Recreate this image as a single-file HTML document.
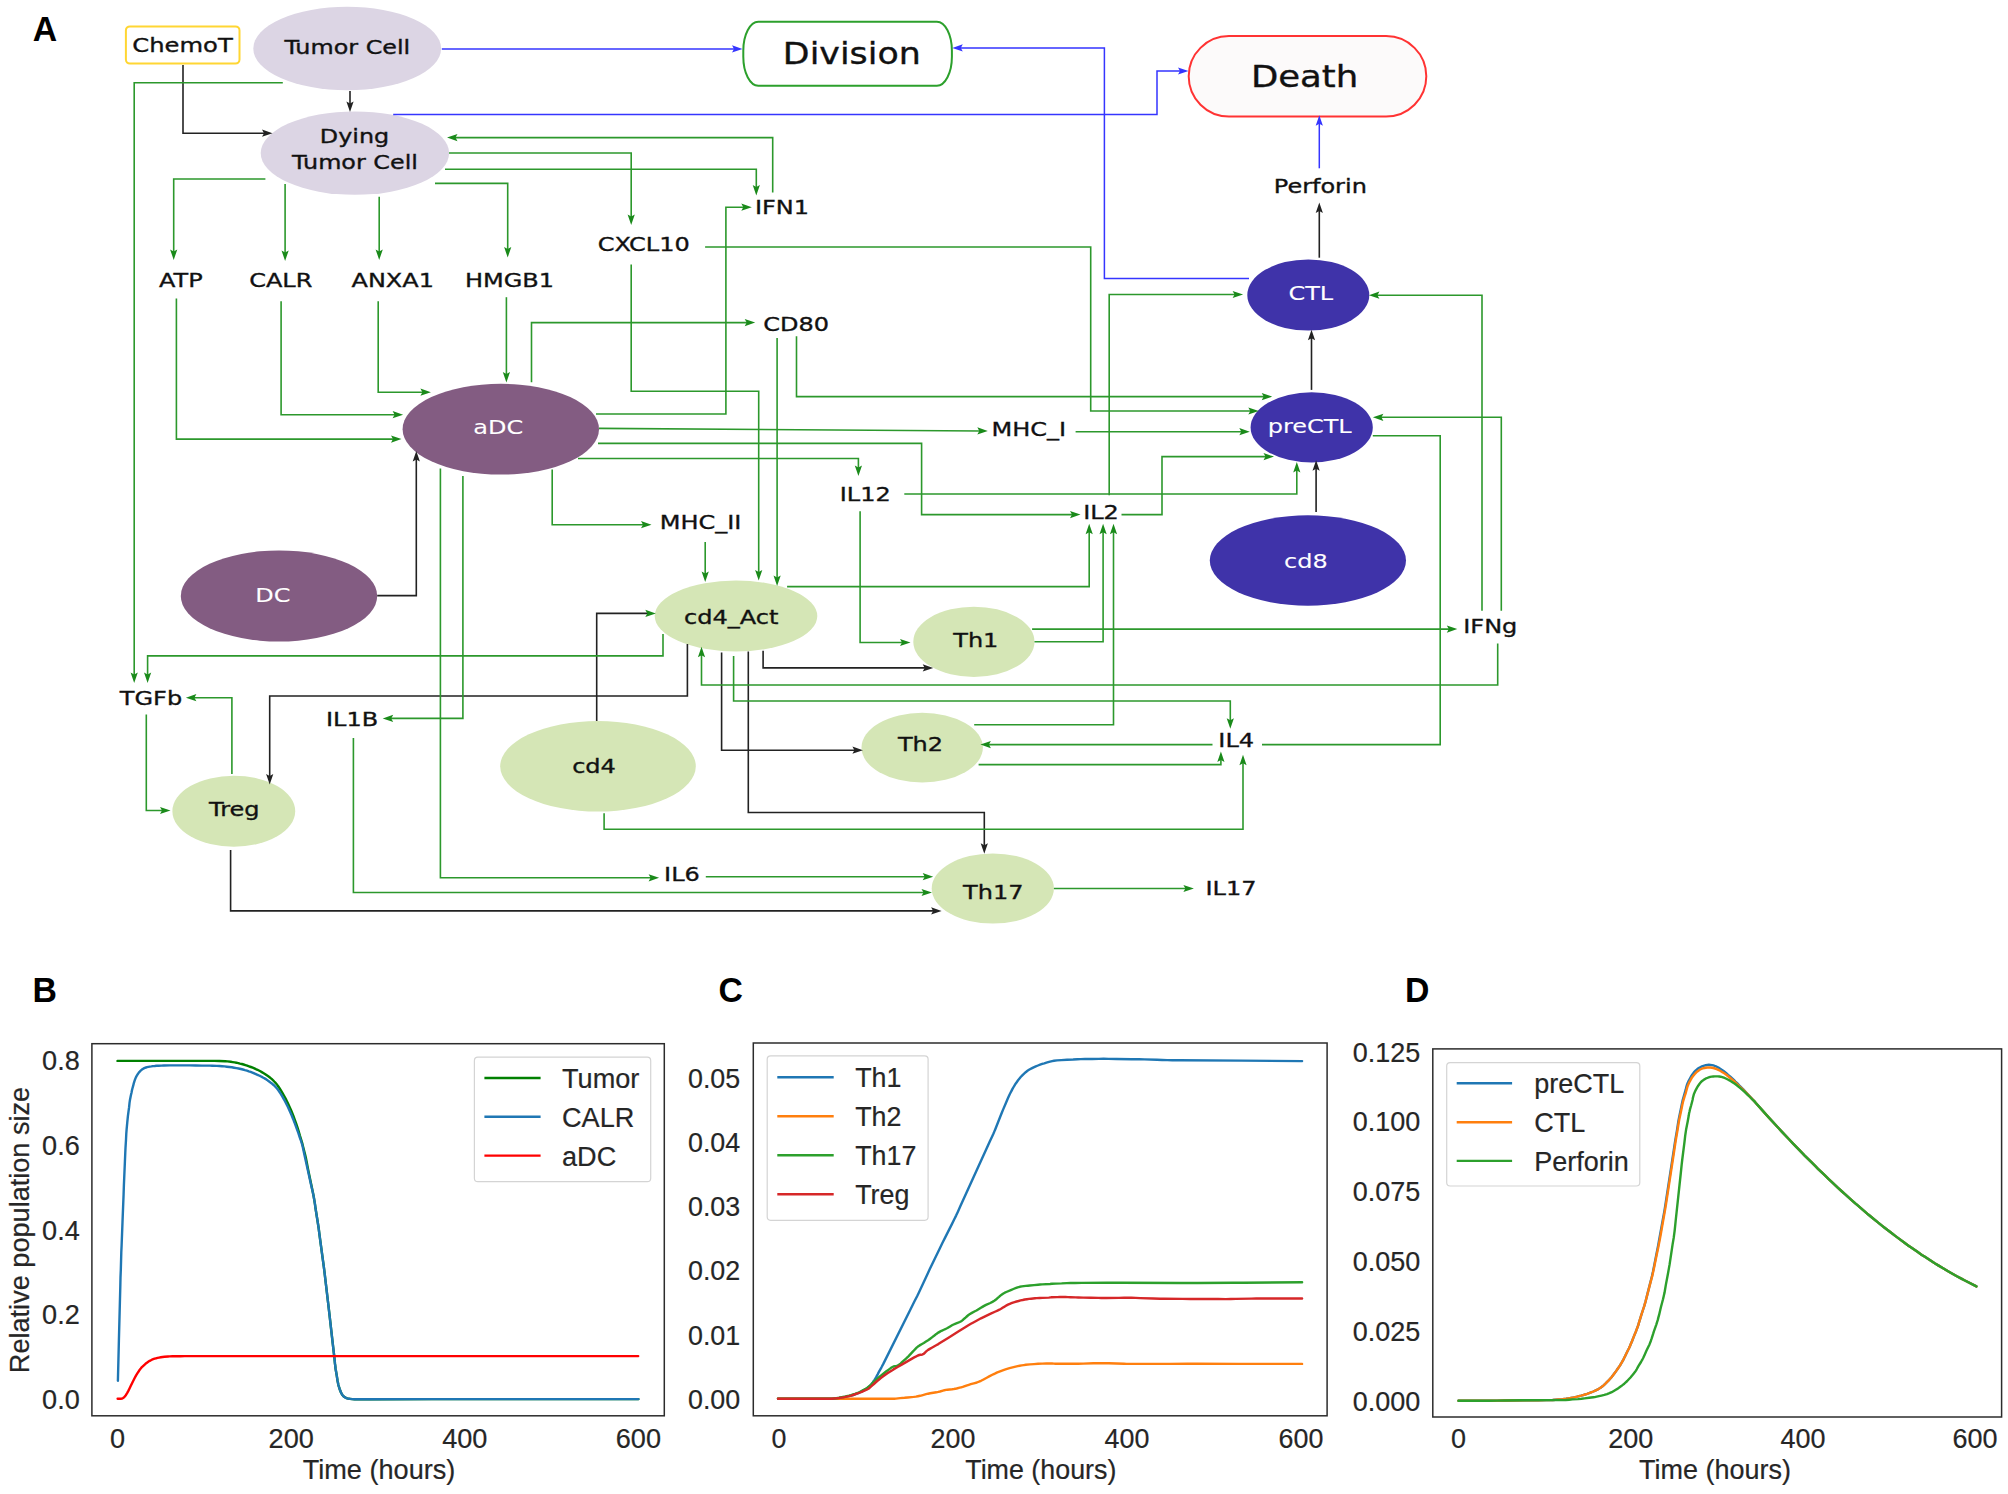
<!DOCTYPE html>
<html><head><meta charset="utf-8"><title>Figure</title>
<style>html,body{margin:0;padding:0;background:#fff}svg{display:block}</style></head><body>
<svg width="2008" height="1494" viewBox="0 0 2008 1494">
<rect width="2008" height="1494" fill="#fff"/>
<ellipse cx="347.2" cy="48.5" rx="93.9" ry="41.8" fill="#dcd5e4"/>
<ellipse cx="354.9" cy="153.1" rx="94.2" ry="41.7" fill="#dcd5e4"/>
<ellipse cx="500.8" cy="429.2" rx="98.2" ry="45.4" fill="#835c82"/>
<ellipse cx="279" cy="596" rx="98.2" ry="45.5" fill="#835c82"/>
<ellipse cx="1308.3" cy="295" rx="61" ry="35.6" fill="#3f33a9"/>
<ellipse cx="1311.7" cy="427.4" rx="61.1" ry="35.1" fill="#3f33a9"/>
<ellipse cx="1307.9" cy="560.5" rx="98.1" ry="45.2" fill="#3f33a9"/>
<ellipse cx="736" cy="616" rx="81.3" ry="35.5" fill="#d5e6b6"/>
<ellipse cx="973.9" cy="641.8" rx="60.6" ry="35.1" fill="#d5e6b6"/>
<ellipse cx="922.2" cy="747.6" rx="60.7" ry="34.8" fill="#d5e6b6"/>
<ellipse cx="992.8" cy="888.5" rx="61.1" ry="35.1" fill="#d5e6b6"/>
<ellipse cx="233.8" cy="811.2" rx="61.4" ry="35.5" fill="#d5e6b6"/>
<ellipse cx="598" cy="766.3" rx="97.8" ry="45.2" fill="#d5e6b6"/>
<rect x="125.9" y="26.4" width="113.6" height="37.2" rx="4" fill="#fff" stroke="#ffd633" stroke-width="2"/>
<rect x="743.3" y="21.8" width="208.6" height="64" rx="15" ry="29" fill="#fff" stroke="#2ca02c" stroke-width="2"/>
<rect x="1188.7" y="36.1" width="237.6" height="80.4" rx="40.2" fill="#fcfafa" stroke="#ff3333" stroke-width="2"/>
<path d="M441.8 48.9 L735 48.9" fill="none" stroke="#3535ff" stroke-width="1.5"/>
<polygon points="742.5,48.9 732,52.5 734,48.9 732,45.3" fill="#3535ff"/>
<path d="M393.2 114.5 L1157 114.5 L1157 71 L1181 71" fill="none" stroke="#3535ff" stroke-width="1.5"/>
<polygon points="1188.5,71 1178,74.6 1180,71 1178,67.4" fill="#3535ff"/>
<path d="M1249 278.4 L1104.4 278.4 L1104.4 47.9 L959.8 47.9" fill="none" stroke="#3535ff" stroke-width="1.5"/>
<polygon points="952.3,47.9 962.8,44.3 960.8,47.9 962.8,51.5" fill="#3535ff"/>
<path d="M1319.3 168.3 L1319.3 122.8" fill="none" stroke="#3535ff" stroke-width="1.5"/>
<polygon points="1319.3,115.3 1322.9,125.8 1319.3,123.8 1315.7,125.8" fill="#3535ff"/>
<path d="M350 91 L350 104.4" fill="none" stroke="#222" stroke-width="1.6"/>
<polygon points="350,111.9 346.4,101.4 350,103.4 353.6,101.4" fill="#222"/>
<path d="M183 65 L183 133.2 L265 133.2" fill="none" stroke="#222" stroke-width="1.6"/>
<polygon points="272.5,133.2 262,136.8 264,133.2 262,129.6" fill="#222"/>
<path d="M1319.3 257.7 L1319.3 210.1" fill="none" stroke="#222" stroke-width="1.6"/>
<polygon points="1319.3,202.6 1322.9,213.1 1319.3,211.1 1315.7,213.1" fill="#222"/>
<path d="M1311.5 389.9 L1311.5 337.3" fill="none" stroke="#222" stroke-width="1.6"/>
<polygon points="1311.5,329.8 1315.1,340.3 1311.5,338.3 1307.9,340.3" fill="#222"/>
<path d="M1316.1 512 L1316.1 467.8" fill="none" stroke="#222" stroke-width="1.6"/>
<polygon points="1316.1,460.3 1319.7,470.8 1316.1,468.8 1312.5,470.8" fill="#222"/>
<path d="M377.2 595.6 L416.3 595.6 L416.3 458.4" fill="none" stroke="#222" stroke-width="1.6"/>
<polygon points="416.3,450.9 419.9,461.4 416.3,459.4 412.7,461.4" fill="#222"/>
<path d="M596.7 721 L596.7 613.4 L648.3 613.4" fill="none" stroke="#222" stroke-width="1.6"/>
<polygon points="655.8,613.4 645.3,617 647.3,613.4 645.3,609.8" fill="#1a8a1a"/>
<path d="M687.4 644.1 L687.4 696 L269.7 696 L269.7 777" fill="none" stroke="#222" stroke-width="1.6"/>
<polygon points="269.7,784.5 266.1,774 269.7,776 273.3,774" fill="#222"/>
<path d="M763.1 650.8 L763.1 667.9 L925.7 667.9" fill="none" stroke="#222" stroke-width="1.6"/>
<polygon points="933.2,667.9 922.7,671.5 924.7,667.9 922.7,664.3" fill="#222"/>
<path d="M721.6 652.5 L721.6 750.2 L855.4 750.2" fill="none" stroke="#222" stroke-width="1.6"/>
<polygon points="862.9,750.2 852.4,753.8 854.4,750.2 852.4,746.6" fill="#222"/>
<path d="M748.3 651.5 L748.3 812.5 L984.3 812.5 L984.3 846.3" fill="none" stroke="#222" stroke-width="1.6"/>
<polygon points="984.3,853.8 980.7,843.3 984.3,845.3 987.9,843.3" fill="#222"/>
<path d="M230.6 850 L230.6 910.9 L934.1 910.9" fill="none" stroke="#222" stroke-width="1.6"/>
<polygon points="941.6,910.9 931.1,914.5 933.1,910.9 931.1,907.3" fill="#222"/>
<path d="M282.8 82.7 L134.2 82.7 L134.2 675.6" fill="none" stroke="#2c982c" stroke-width="1.6"/>
<polygon points="134.2,683.1 130.6,672.6 134.2,674.6 137.8,672.6" fill="#1a8a1a"/>
<path d="M772.7 192.4 L772.7 137.6 L454.5 137.6" fill="none" stroke="#2c982c" stroke-width="1.6"/>
<polygon points="447,137.6 457.5,134 455.5,137.6 457.5,141.2" fill="#1a8a1a"/>
<path d="M449 153 L631.2 153 L631.2 217.6" fill="none" stroke="#2c982c" stroke-width="1.6"/>
<polygon points="631.2,225.1 627.6,214.6 631.2,216.6 634.8,214.6" fill="#1a8a1a"/>
<path d="M445 169.3 L756.3 169.3 L756.3 188" fill="none" stroke="#2c982c" stroke-width="1.6"/>
<polygon points="756.3,195.5 752.7,185 756.3,187 759.9,185" fill="#1a8a1a"/>
<path d="M265.4 179 L173.7 179 L173.7 252.4" fill="none" stroke="#2c982c" stroke-width="1.6"/>
<polygon points="173.7,259.9 170.1,249.4 173.7,251.4 177.3,249.4" fill="#1a8a1a"/>
<path d="M285.1 184 L285.1 253.4" fill="none" stroke="#2c982c" stroke-width="1.6"/>
<polygon points="285.1,260.9 281.5,250.4 285.1,252.4 288.7,250.4" fill="#1a8a1a"/>
<path d="M379.2 196.8 L379.2 252.4" fill="none" stroke="#2c982c" stroke-width="1.6"/>
<polygon points="379.2,259.9 375.6,249.4 379.2,251.4 382.8,249.4" fill="#1a8a1a"/>
<path d="M435 183.4 L507.7 183.4 L507.7 250" fill="none" stroke="#2c982c" stroke-width="1.6"/>
<polygon points="507.7,257.5 504.1,247 507.7,249 511.3,247" fill="#1a8a1a"/>
<path d="M176.4 298.5 L176.4 439.1 L394 439.1" fill="none" stroke="#2c982c" stroke-width="1.6"/>
<polygon points="401.5,439.1 391,442.7 393,439.1 391,435.5" fill="#1a8a1a"/>
<path d="M281.1 301.2 L281.1 414.7 L395.6 414.7" fill="none" stroke="#2c982c" stroke-width="1.6"/>
<polygon points="403.1,414.7 392.6,418.3 394.6,414.7 392.6,411.1" fill="#1a8a1a"/>
<path d="M378.2 301.2 L378.2 392.2 L423.4 392.2" fill="none" stroke="#2c982c" stroke-width="1.6"/>
<polygon points="430.9,392.2 420.4,395.8 422.4,392.2 420.4,388.6" fill="#1a8a1a"/>
<path d="M506.4 297.2 L506.4 374.9" fill="none" stroke="#2c982c" stroke-width="1.6"/>
<polygon points="506.4,382.4 502.8,371.9 506.4,373.9 510,371.9" fill="#1a8a1a"/>
<path d="M631.2 264.4 L631.2 391.3 L758.7 391.3 L758.7 572.9" fill="none" stroke="#2c982c" stroke-width="1.6"/>
<polygon points="758.7,580.4 755.1,569.9 758.7,571.9 762.3,569.9" fill="#1a8a1a"/>
<path d="M705.1 247 L1090.7 247 L1090.7 411 L1251.3 411" fill="none" stroke="#2c982c" stroke-width="1.6"/>
<polygon points="1258.8,411 1248.3,414.6 1250.3,411 1248.3,407.4" fill="#1a8a1a"/>
<path d="M531.5 382.2 L531.5 322.6 L747.7 322.6" fill="none" stroke="#2c982c" stroke-width="1.6"/>
<polygon points="755.2,322.6 744.7,326.2 746.7,322.6 744.7,319" fill="#1a8a1a"/>
<path d="M596 414 L725.9 414 L725.9 207.2 L744.3 207.2" fill="none" stroke="#2c982c" stroke-width="1.6"/>
<polygon points="751.8,207.2 741.3,210.8 743.3,207.2 741.3,203.6" fill="#1a8a1a"/>
<path d="M599 428.4 L980.3 431" fill="none" stroke="#2c982c" stroke-width="1.6"/>
<polygon points="987.8,431 977.3,434.5 979.3,431 977.3,427.3" fill="#1a8a1a"/>
<path d="M1075.6 431.7 L1242.3 431.7" fill="none" stroke="#2c982c" stroke-width="1.6"/>
<polygon points="1249.8,431.7 1239.3,435.3 1241.3,431.7 1239.3,428.1" fill="#1a8a1a"/>
<path d="M598 443.4 L921.6 443.4 L921.6 514.6 L1073 514.6" fill="none" stroke="#2c982c" stroke-width="1.6"/>
<polygon points="1080.5,514.6 1070,518.2 1072,514.6 1070,511" fill="#1a8a1a"/>
<path d="M578 458.5 L858.4 458.5 L858.4 468.6" fill="none" stroke="#2c982c" stroke-width="1.6"/>
<polygon points="858.4,476.1 854.8,465.6 858.4,467.6 862,465.6" fill="#1a8a1a"/>
<path d="M552.2 469.5 L552.2 524.7 L644 524.7" fill="none" stroke="#2c982c" stroke-width="1.6"/>
<polygon points="651.5,524.7 641,528.3 643,524.7 641,521.1" fill="#1a8a1a"/>
<path d="M440.4 468.5 L440.4 877.8 L651.6 877.8" fill="none" stroke="#2c982c" stroke-width="1.6"/>
<polygon points="659.1,877.8 648.6,881.4 650.6,877.8 648.6,874.2" fill="#1a8a1a"/>
<path d="M462.9 476 L462.9 718.4 L390.2 718.4" fill="none" stroke="#2c982c" stroke-width="1.6"/>
<polygon points="382.7,718.4 393.2,714.8 391.2,718.4 393.2,722" fill="#1a8a1a"/>
<path d="M777.1 338 L777.1 578.6" fill="none" stroke="#2c982c" stroke-width="1.6"/>
<polygon points="777.1,586.1 773.5,575.6 777.1,577.6 780.7,575.6" fill="#1a8a1a"/>
<path d="M796.5 336.3 L796.5 396.6 L1264.7 396.6" fill="none" stroke="#2c982c" stroke-width="1.6"/>
<polygon points="1272.2,396.6 1261.7,400.2 1263.7,396.6 1261.7,393" fill="#1a8a1a"/>
<path d="M1109.2 495.2 L1109.2 294.5 L1235.6 294.5" fill="none" stroke="#2c982c" stroke-width="1.6"/>
<polygon points="1243.1,294.5 1232.6,298.1 1234.6,294.5 1232.6,290.9" fill="#1a8a1a"/>
<path d="M1121.5 514.6 L1162 514.6 L1162 456.6 L1266.5 456.6" fill="none" stroke="#2c982c" stroke-width="1.6"/>
<polygon points="1274,456.6 1263.5,460.2 1265.5,456.6 1263.5,453" fill="#1a8a1a"/>
<path d="M904.3 494 L1296.8 494 L1296.8 469.5" fill="none" stroke="#2c982c" stroke-width="1.6"/>
<polygon points="1296.8,462 1300.4,472.5 1296.8,470.5 1293.2,472.5" fill="#1a8a1a"/>
<path d="M860.1 511.3 L860.1 642.5 L903 642.5" fill="none" stroke="#2c982c" stroke-width="1.6"/>
<polygon points="910.5,642.5 900,646.1 902,642.5 900,638.9" fill="#1a8a1a"/>
<path d="M705.2 542.1 L705.2 574.6" fill="none" stroke="#2c982c" stroke-width="1.6"/>
<polygon points="705.2,582.1 701.6,571.6 705.2,573.6 708.8,571.6" fill="#1a8a1a"/>
<path d="M787.1 586.6 L1089.2 586.6 L1089.2 531.3" fill="none" stroke="#2c982c" stroke-width="1.6"/>
<polygon points="1089.2,523.8 1092.8,534.3 1089.2,532.3 1085.6,534.3" fill="#1a8a1a"/>
<path d="M1034.5 641.8 L1103.1 641.8 L1103.1 531.3" fill="none" stroke="#2c982c" stroke-width="1.6"/>
<polygon points="1103.1,523.8 1106.7,534.3 1103.1,532.3 1099.5,534.3" fill="#1a8a1a"/>
<path d="M974.2 724.8 L1113.5 724.8 L1113.5 531.3" fill="none" stroke="#2c982c" stroke-width="1.6"/>
<polygon points="1113.5,523.8 1117.1,534.3 1113.5,532.3 1109.9,534.3" fill="#1a8a1a"/>
<path d="M1032.1 629.1 L1449.8 629.1" fill="none" stroke="#2c982c" stroke-width="1.6"/>
<polygon points="1457.3,629.1 1446.8,632.7 1448.8,629.1 1446.8,625.5" fill="#1a8a1a"/>
<path d="M1482 610.7 L1482 295.2 L1376.4 295.2" fill="none" stroke="#2c982c" stroke-width="1.6"/>
<polygon points="1368.9,295.2 1379.4,291.6 1377.4,295.2 1379.4,298.8" fill="#1a8a1a"/>
<path d="M1501.3 610.7 L1501.3 417.3 L1380.4 417.3" fill="none" stroke="#2c982c" stroke-width="1.6"/>
<polygon points="1372.9,417.3 1383.4,413.7 1381.4,417.3 1383.4,420.9" fill="#1a8a1a"/>
<path d="M1497.7 643.5 L1497.7 685 L701.5 685 L701.5 654.2" fill="none" stroke="#2c982c" stroke-width="1.6"/>
<polygon points="701.5,646.7 705.1,657.2 701.5,655.2 697.9,657.2" fill="#1a8a1a"/>
<path d="M1372.8 435.7 L1440.2 435.7 L1440.2 744.6 L1262 744.6" fill="none" stroke="#2c982c" stroke-width="1.6"/>
<path d="M1212.5 744.6 L987.9 744.6" fill="none" stroke="#2c982c" stroke-width="1.6"/>
<polygon points="980.4,744.6 990.9,741 988.9,744.6 990.9,748.2" fill="#1a8a1a"/>
<path d="M978.6 764.6 L1220.9 764.6 L1220.9 758.9" fill="none" stroke="#2c982c" stroke-width="1.6"/>
<polygon points="1220.9,751.4 1224.5,761.9 1220.9,759.9 1217.3,761.9" fill="#1a8a1a"/>
<path d="M733.6 655.9 L733.6 701 L1230.3 701 L1230.3 721.2" fill="none" stroke="#2c982c" stroke-width="1.6"/>
<polygon points="1230.3,728.7 1226.7,718.2 1230.3,720.2 1233.9,718.2" fill="#1a8a1a"/>
<path d="M604.1 813.2 L604.1 829.2 L1243 829.2 L1243 762.3" fill="none" stroke="#2c982c" stroke-width="1.6"/>
<polygon points="1243,754.8 1246.6,765.3 1243,763.3 1239.4,765.3" fill="#1a8a1a"/>
<path d="M663 634.1 L663 655.9 L147.6 655.9 L147.6 675.6" fill="none" stroke="#2c982c" stroke-width="1.6"/>
<polygon points="147.6,683.1 144,672.6 147.6,674.6 151.2,672.6" fill="#1a8a1a"/>
<path d="M231.9 774 L231.9 697.7 L193.4 697.7" fill="none" stroke="#2c982c" stroke-width="1.6"/>
<polygon points="185.9,697.7 196.4,694.1 194.4,697.7 196.4,701.3" fill="#1a8a1a"/>
<path d="M146.3 714.4 L146.3 810.5 L163 810.5" fill="none" stroke="#2c982c" stroke-width="1.6"/>
<polygon points="170.5,810.5 160,814.1 162,810.5 160,806.9" fill="#1a8a1a"/>
<path d="M353.4 737.9 L353.4 892.5 L924.5 892.5" fill="none" stroke="#2c982c" stroke-width="1.6"/>
<polygon points="932,892.5 921.5,896.1 923.5,892.5 921.5,888.9" fill="#1a8a1a"/>
<path d="M705.8 876.7 L925.7 876.7" fill="none" stroke="#2c982c" stroke-width="1.6"/>
<polygon points="933.2,876.7 922.7,880.3 924.7,876.7 922.7,873.1" fill="#1a8a1a"/>
<path d="M1053.9 888.5 L1186.4 888.5" fill="none" stroke="#2c982c" stroke-width="1.6"/>
<polygon points="1193.9,888.5 1183.4,892.1 1185.4,888.5 1183.4,884.9" fill="#1a8a1a"/>
<text transform="translate(182.5 51.9) scale(1.25 1)" font-family='"DejaVu Sans", "Liberation Sans", sans-serif' font-size="19.4" fill="#111" text-anchor="middle" stroke="#111" stroke-width="0.35">ChemoT</text>
<text transform="translate(347.3 54.4) scale(1.23 1)" font-family='"DejaVu Sans", "Liberation Sans", sans-serif' font-size="19.4" fill="#111" text-anchor="middle" stroke="#111" stroke-width="0.35">Tumor Cell</text>
<text transform="translate(354.5 143.3) scale(1.23 1)" font-family='"DejaVu Sans", "Liberation Sans", sans-serif' font-size="19.4" fill="#111" text-anchor="middle" stroke="#111" stroke-width="0.35">Dying</text>
<text transform="translate(355 169.4) scale(1.23 1)" font-family='"DejaVu Sans", "Liberation Sans", sans-serif' font-size="19.4" fill="#111" text-anchor="middle" stroke="#111" stroke-width="0.35">Tumor Cell</text>
<text transform="translate(851.8 63.5) scale(1.142 1)" font-family='"DejaVu Sans", "Liberation Sans", sans-serif' font-size="30.5" fill="#111" text-anchor="middle" stroke="#111" stroke-width="0.35">Division</text>
<text transform="translate(1304.6 87.3) scale(1.165 1)" font-family='"DejaVu Sans", "Liberation Sans", sans-serif' font-size="30.5" fill="#111" text-anchor="middle" stroke="#111" stroke-width="0.35">Death</text>
<text transform="translate(180.8 287.1) scale(1.2 1)" font-family='"DejaVu Sans", "Liberation Sans", sans-serif' font-size="20" fill="#111" text-anchor="middle" stroke="#111" stroke-width="0.35">ATP</text>
<text transform="translate(280.8 287.1) scale(1.2 1)" font-family='"DejaVu Sans", "Liberation Sans", sans-serif' font-size="20" fill="#111" text-anchor="middle" stroke="#111" stroke-width="0.35">CALR</text>
<text transform="translate(392.7 287.1) scale(1.2 1)" font-family='"DejaVu Sans", "Liberation Sans", sans-serif' font-size="20" fill="#111" text-anchor="middle" stroke="#111" stroke-width="0.35">ANXA1</text>
<text transform="translate(509.5 287.1) scale(1.2 1)" font-family='"DejaVu Sans", "Liberation Sans", sans-serif' font-size="20" fill="#111" text-anchor="middle" stroke="#111" stroke-width="0.35">HMGB1</text>
<text transform="translate(643.7 251) scale(1.2 1)" font-family='"DejaVu Sans", "Liberation Sans", sans-serif' font-size="20" fill="#111" text-anchor="middle" stroke="#111" stroke-width="0.35">CXCL10</text>
<text transform="translate(782 213.5) scale(1.2 1)" font-family='"DejaVu Sans", "Liberation Sans", sans-serif' font-size="20" fill="#111" text-anchor="middle" stroke="#111" stroke-width="0.35">IFN1</text>
<text transform="translate(796.2 330.6) scale(1.2 1)" font-family='"DejaVu Sans", "Liberation Sans", sans-serif' font-size="20" fill="#111" text-anchor="middle" stroke="#111" stroke-width="0.35">CD80</text>
<text transform="translate(1028.8 436) scale(1.2 1)" font-family='"DejaVu Sans", "Liberation Sans", sans-serif' font-size="20" fill="#111" text-anchor="middle" stroke="#111" stroke-width="0.35">MHC_I</text>
<text transform="translate(1320.3 193.4) scale(1.2 1)" font-family='"DejaVu Sans", "Liberation Sans", sans-serif' font-size="20" fill="#111" text-anchor="middle" stroke="#111" stroke-width="0.35">Perforin</text>
<text transform="translate(1310.8 299.5) scale(1.2 1)" font-family='"DejaVu Sans", "Liberation Sans", sans-serif' font-size="20" fill="#fff" text-anchor="middle" stroke="#fff" stroke-width="0.1">CTL</text>
<text transform="translate(1309.7 433.3) scale(1.2 1)" font-family='"DejaVu Sans", "Liberation Sans", sans-serif' font-size="20" fill="#fff" text-anchor="middle" stroke="#fff" stroke-width="0.1">preCTL</text>
<text transform="translate(1305.8 567.5) scale(1.2 1)" font-family='"DejaVu Sans", "Liberation Sans", sans-serif' font-size="20" fill="#fff" text-anchor="middle" stroke="#fff" stroke-width="0.1">cd8</text>
<text transform="translate(498.2 434.3) scale(1.2 1)" font-family='"DejaVu Sans", "Liberation Sans", sans-serif' font-size="20" fill="#fff" text-anchor="middle" stroke="#fff" stroke-width="0.1">aDC</text>
<text transform="translate(272.8 601.6) scale(1.2 1)" font-family='"DejaVu Sans", "Liberation Sans", sans-serif' font-size="20" fill="#fff" text-anchor="middle" stroke="#fff" stroke-width="0.1">DC</text>
<text transform="translate(865.2 501.2) scale(1.2 1)" font-family='"DejaVu Sans", "Liberation Sans", sans-serif' font-size="20" fill="#111" text-anchor="middle" stroke="#111" stroke-width="0.35">IL12</text>
<text transform="translate(1101 518.6) scale(1.2 1)" font-family='"DejaVu Sans", "Liberation Sans", sans-serif' font-size="20" fill="#111" text-anchor="middle" stroke="#111" stroke-width="0.35">IL2</text>
<text transform="translate(700.5 529) scale(1.2 1)" font-family='"DejaVu Sans", "Liberation Sans", sans-serif' font-size="20" fill="#111" text-anchor="middle" stroke="#111" stroke-width="0.35">MHC_II</text>
<text transform="translate(731.2 624.4) scale(1.2 1)" font-family='"DejaVu Sans", "Liberation Sans", sans-serif' font-size="20" fill="#111" text-anchor="middle" stroke="#111" stroke-width="0.35">cd4_Act</text>
<text transform="translate(975.8 646.8) scale(1.2 1)" font-family='"DejaVu Sans", "Liberation Sans", sans-serif' font-size="20" fill="#111" text-anchor="middle" stroke="#111" stroke-width="0.35">Th1</text>
<text transform="translate(920.5 751.2) scale(1.2 1)" font-family='"DejaVu Sans", "Liberation Sans", sans-serif' font-size="20" fill="#111" text-anchor="middle" stroke="#111" stroke-width="0.35">Th2</text>
<text transform="translate(993.3 898.5) scale(1.2 1)" font-family='"DejaVu Sans", "Liberation Sans", sans-serif' font-size="20" fill="#111" text-anchor="middle" stroke="#111" stroke-width="0.35">Th17</text>
<text transform="translate(234.3 815.8) scale(1.2 1)" font-family='"DejaVu Sans", "Liberation Sans", sans-serif' font-size="20" fill="#111" text-anchor="middle" stroke="#111" stroke-width="0.35">Treg</text>
<text transform="translate(594 773.3) scale(1.2 1)" font-family='"DejaVu Sans", "Liberation Sans", sans-serif' font-size="20" fill="#111" text-anchor="middle" stroke="#111" stroke-width="0.35">cd4</text>
<text transform="translate(151 705.4) scale(1.2 1)" font-family='"DejaVu Sans", "Liberation Sans", sans-serif' font-size="20" fill="#111" text-anchor="middle" stroke="#111" stroke-width="0.35">TGFb</text>
<text transform="translate(352.1 726.4) scale(1.2 1)" font-family='"DejaVu Sans", "Liberation Sans", sans-serif' font-size="20" fill="#111" text-anchor="middle" stroke="#111" stroke-width="0.35">IL1B</text>
<text transform="translate(681.9 881.1) scale(1.2 1)" font-family='"DejaVu Sans", "Liberation Sans", sans-serif' font-size="20" fill="#111" text-anchor="middle" stroke="#111" stroke-width="0.35">IL6</text>
<text transform="translate(1236.2 746.5) scale(1.2 1)" font-family='"DejaVu Sans", "Liberation Sans", sans-serif' font-size="20" fill="#111" text-anchor="middle" stroke="#111" stroke-width="0.35">IL4</text>
<text transform="translate(1231 895.1) scale(1.2 1)" font-family='"DejaVu Sans", "Liberation Sans", sans-serif' font-size="20" fill="#111" text-anchor="middle" stroke="#111" stroke-width="0.35">IL17</text>
<text transform="translate(1490.3 633.4) scale(1.2 1)" font-family='"DejaVu Sans", "Liberation Sans", sans-serif' font-size="20" fill="#111" text-anchor="middle" stroke="#111" stroke-width="0.35">IFNg</text>
<text transform="translate(32.7 41.4) scale(0.98 1)" font-family='"Liberation Sans", "DejaVu Sans", sans-serif' font-size="34.5" fill="#000" text-anchor="start" font-weight="bold">A</text>
<text transform="translate(32.5 1002.3) scale(0.98 1)" font-family='"Liberation Sans", "DejaVu Sans", sans-serif' font-size="34.5" fill="#000" text-anchor="start" font-weight="bold">B</text>
<text transform="translate(718.6 1002.3) scale(0.98 1)" font-family='"Liberation Sans", "DejaVu Sans", sans-serif' font-size="34.5" fill="#000" text-anchor="start" font-weight="bold">C</text>
<text transform="translate(1404.9 1002.3) scale(0.98 1)" font-family='"Liberation Sans", "DejaVu Sans", sans-serif' font-size="34.5" fill="#000" text-anchor="start" font-weight="bold">D</text>
<rect x="91.9" y="1043.7" width="572.4" height="372.1" fill="#fff" stroke="#2c2c2c" stroke-width="1.5"/>
<text transform="translate(117.6 1448.3) scale(0.962 1)" font-family='"Liberation Sans", "DejaVu Sans", sans-serif' font-size="28.2" fill="#262626" text-anchor="middle" stroke="#262626" stroke-width="0.2">0</text>
<text transform="translate(291.2 1448.3) scale(0.962 1)" font-family='"Liberation Sans", "DejaVu Sans", sans-serif' font-size="28.2" fill="#262626" text-anchor="middle" stroke="#262626" stroke-width="0.2">200</text>
<text transform="translate(464.8 1448.3) scale(0.962 1)" font-family='"Liberation Sans", "DejaVu Sans", sans-serif' font-size="28.2" fill="#262626" text-anchor="middle" stroke="#262626" stroke-width="0.2">400</text>
<text transform="translate(638.4 1448.3) scale(0.962 1)" font-family='"Liberation Sans", "DejaVu Sans", sans-serif' font-size="28.2" fill="#262626" text-anchor="middle" stroke="#262626" stroke-width="0.2">600</text>
<text transform="translate(379 1479.3) scale(0.962 1)" font-family='"Liberation Sans", "DejaVu Sans", sans-serif' font-size="28.2" fill="#262626" text-anchor="middle" stroke="#262626" stroke-width="0.2">Time (hours)</text>
<text transform="translate(79.8 1408.8) scale(0.962 1)" font-family='"Liberation Sans", "DejaVu Sans", sans-serif' font-size="28.2" fill="#262626" text-anchor="end" stroke="#262626" stroke-width="0.2">0.0</text>
<text transform="translate(79.8 1324.2) scale(0.962 1)" font-family='"Liberation Sans", "DejaVu Sans", sans-serif' font-size="28.2" fill="#262626" text-anchor="end" stroke="#262626" stroke-width="0.2">0.2</text>
<text transform="translate(79.8 1239.5) scale(0.962 1)" font-family='"Liberation Sans", "DejaVu Sans", sans-serif' font-size="28.2" fill="#262626" text-anchor="end" stroke="#262626" stroke-width="0.2">0.4</text>
<text transform="translate(79.8 1155) scale(0.962 1)" font-family='"Liberation Sans", "DejaVu Sans", sans-serif' font-size="28.2" fill="#262626" text-anchor="end" stroke="#262626" stroke-width="0.2">0.6</text>
<text transform="translate(79.8 1070.3) scale(0.962 1)" font-family='"Liberation Sans", "DejaVu Sans", sans-serif' font-size="28.2" fill="#262626" text-anchor="end" stroke="#262626" stroke-width="0.2">0.8</text>
<text transform="translate(28.5 1230) rotate(-90) scale(0.962 1)" font-family='"Liberation Sans", "DejaVu Sans", sans-serif' font-size="28.2" fill="#262626" stroke="#262626" stroke-width="0.2" text-anchor="middle">Relative population size</text>
<path d="M117.5 1060.9 L179.3 1060.9 L207.6 1060.9 L214.5 1060.9 L219.4 1061 L225.1 1061.2 L227.5 1061.4 L230.8 1061.8 L232.6 1062.1 L234.6 1062.4 L236.4 1062.7 L238.2 1063.1 L240 1063.6 L241.8 1064 L243.6 1064.5 L245.4 1065.1 L247.2 1065.7 L249 1066.3 L250.9 1067 L252.7 1067.7 L254.4 1068.4 L255.9 1069.1 L257.5 1069.8 L258.9 1070.5 L260.4 1071.3 L261.8 1072.1 L263.3 1073 L264.9 1074 L266.4 1075 L267.9 1076 L269.3 1077 L270.6 1078.1 L271.9 1079.2 L273.1 1080.3 L274.2 1081.5 L275.3 1082.6 L276.3 1083.7 L277.2 1084.9 L278 1086 L279.7 1088.5 L280.6 1089.9 L281.5 1091.4 L282.4 1092.9 L284.2 1096 L286 1099.4 L286.9 1101.2 L287.8 1103.1 L289.6 1106.9 L290.5 1109 L291.4 1111 L292.3 1113.2 L293.2 1115.4 L294.1 1117.9 L295.1 1120.6 L296.1 1123.3 L297.7 1128.1 L298.3 1130 L299.9 1135.6 L301.3 1140.1 L302.2 1143.1 L302.9 1146 L304 1150.3 L305.1 1154.6 L305.8 1157.6 L306.4 1160.6 L308.1 1169.4 L311.4 1185.3 L313 1192.9 L313.5 1195.4 L313.9 1197.8 L314.3 1200.1 L315 1204.4 L315.6 1208.8 L317.7 1222 L318.7 1228.5 L319.3 1233.3 L322.4 1256.3 L323.8 1266.6 L324.4 1271.3 L328.2 1303.6 L329.7 1316.7 L332.7 1343.1 L334.3 1356.8 L335 1363.9 L335.3 1366.2 L335.5 1368.2 L335.8 1370 L336.8 1375.9 L337.5 1380.5 L337.8 1382 L338.1 1383.5 L338.4 1385 L338.8 1386.4 L339.3 1387.8 L339.7 1389.2 L340.6 1391.5 L341 1392.5 L341.5 1393.4 L341.9 1394.2 L342.4 1395 L342.9 1395.6 L343.5 1396.2 L344.6 1397.1 L345.9 1397.9 L347.3 1398.4 L349 1398.8 L350 1398.9 L352.2 1399.1 L354.6 1399.2 L357.5 1399.2 L369.9 1399.2 L431.7 1399.1 L493.4 1399.1 L555.2 1399.1 L616.9 1399.1 L638.4 1399.1" fill="none" stroke="#008000" stroke-width="2.4" stroke-linejoin="round" stroke-linecap="round"/>
<path d="M117.9 1380.8 L118.9 1340.3 L120.3 1286.7 L120.5 1277.4 L120.8 1270.1 L121.3 1252.3 L121.6 1245.8 L122.5 1222.1 L123.6 1194.3 L123.9 1185 L124.9 1161.7 L125.3 1152.2 L125.5 1147.9 L126 1139.8 L126.3 1133.5 L126.6 1129.6 L126.9 1126.4 L127.3 1122.2 L127.9 1116.2 L128.3 1113.2 L129.1 1107.2 L129.5 1103.1 L129.7 1101.6 L130 1099.8 L130.4 1097.7 L130.9 1095.2 L131.5 1092.7 L132 1090.1 L132.6 1087.8 L133.2 1085.7 L133.7 1083.6 L134.3 1081.6 L134.9 1079.8 L135.6 1078.1 L136.3 1076.6 L137 1075.3 L137.7 1074.2 L138.5 1073.1 L139.3 1072.1 L140.1 1071.2 L141 1070.4 L141.9 1069.6 L142.8 1069 L143.8 1068.4 L144.9 1067.9 L146 1067.5 L147.1 1067.2 L148.4 1066.9 L149.8 1066.6 L151.3 1066.4 L152.9 1066.1 L154.7 1066 L156.6 1065.8 L158.7 1065.7 L161.2 1065.6 L163.9 1065.5 L169.7 1065.4 L174.4 1065.4 L182 1065.4 L189.8 1065.4 L195.8 1065.5 L202 1065.6 L207.9 1065.6 L210 1065.6 L212.1 1065.7 L216.9 1065.9 L219.5 1066 L222 1066.2 L224.5 1066.4 L226.9 1066.7 L229.4 1067 L231.8 1067.3 L234.1 1067.7 L236.4 1068.1 L238.6 1068.5 L240.8 1069 L242.9 1069.5 L244.9 1070.1 L246.9 1070.6 L248.8 1071.3 L250.6 1071.9 L252.4 1072.6 L255.9 1074.1 L257.5 1074.8 L259 1075.5 L260.5 1076.2 L261.9 1076.9 L263.3 1077.7 L264.6 1078.4 L265.8 1079.1 L267 1079.9 L268.1 1080.7 L270.5 1082.5 L271.8 1083.4 L273 1084.5 L274.2 1085.5 L275.3 1086.6 L276.3 1087.7 L277.2 1088.8 L278 1089.9 L279.7 1092.3 L280.6 1093.6 L281.5 1095.1 L282.4 1096.6 L284.2 1099.8 L286 1103.2 L286.9 1105 L287.8 1106.8 L288.7 1108.7 L289.6 1110.7 L290.5 1112.7 L291.4 1114.8 L292.3 1117 L293.2 1119.2 L294.1 1121.6 L295.1 1124.1 L296.9 1129.1 L298.3 1132.8 L299.9 1137.9 L301.3 1141.7 L301.7 1143.1 L302.2 1144.6 L302.6 1146.3 L303.4 1150 L304.2 1153.8 L308.3 1172.3 L311.1 1185 L312.9 1192.8 L313.4 1195.3 L313.9 1197.8 L314.3 1200.1 L314.7 1202.3 L315.6 1208.8 L317.7 1222 L318.7 1228.5 L319.3 1233.3 L322.4 1256.3 L323.8 1266.6 L324.4 1271.3 L328.2 1303.6 L329.7 1316.7 L332.7 1343.1 L334.3 1356.8 L335 1363.9 L335.3 1366.2 L335.5 1368.2 L335.8 1370 L336.8 1375.9 L337.5 1380.5 L337.8 1382 L338.1 1383.5 L338.4 1385 L338.8 1386.4 L339.3 1387.8 L339.7 1389.2 L340.6 1391.5 L341 1392.5 L341.5 1393.4 L341.9 1394.2 L342.4 1395 L342.9 1395.6 L343.5 1396.2 L344.6 1397.1 L345.9 1397.9 L347.3 1398.4 L349 1398.8 L350 1398.9 L352.2 1399.1 L354.6 1399.2 L357.5 1399.2 L369.9 1399.2 L431.7 1399.1 L493.4 1399.1 L555.2 1399.1 L616.9 1399.1 L638.4 1399.1" fill="none" stroke="#1f77b4" stroke-width="2.4" stroke-linejoin="round" stroke-linecap="round"/>
<path d="M117.6 1398.7 L119.4 1398.8 L120.8 1398.7 L122 1398.5 L122.6 1398.3 L123.1 1398 L123.7 1397.6 L124.3 1397.1 L124.8 1396.4 L126 1394.9 L127.1 1393.1 L128.2 1391.1 L129.4 1388.7 L130.8 1385.8 L132.3 1382.7 L133.8 1379.7 L135.3 1376.8 L136.1 1375.4 L137.8 1372.7 L138.6 1371.5 L139.4 1370.2 L140.3 1369.1 L141.2 1367.9 L142.2 1366.8 L143.3 1365.8 L144.4 1364.8 L145.5 1363.8 L146.6 1362.9 L147.6 1362.2 L148.6 1361.5 L149.7 1360.8 L150.8 1360.3 L151.9 1359.7 L153.2 1359.2 L154.6 1358.7 L156 1358.3 L157.5 1357.9 L159.1 1357.6 L160.8 1357.3 L162.6 1357 L164.5 1356.8 L168 1356.5 L169.6 1356.4 L172.4 1356.3 L175.2 1356.3 L180.5 1356.2 L184.7 1356.1 L245.9 1356.1 L306.7 1356.1 L367.4 1356.1 L428.2 1356.1 L489 1356.1 L549.8 1356.1 L610.6 1356.1 L638.2 1356.1" fill="none" stroke="#ff0000" stroke-width="2.4" stroke-linejoin="round" stroke-linecap="round"/>
<rect x="474.4" y="1057.2" width="176.3" height="124.5" rx="3.5" fill="#fff" fill-opacity="0.8" stroke="#d4d4d4" stroke-width="1.2"/>
<path d="M484.4 1078 H540.6" stroke="#008000" stroke-width="2.4"/>
<text transform="translate(562 1087.9) scale(0.962 1)" font-family='"Liberation Sans", "DejaVu Sans", sans-serif' font-size="28.2" fill="#262626" text-anchor="start" stroke="#262626" stroke-width="0.2">Tumor</text>
<path d="M484.4 1116.8 H540.6" stroke="#1f77b4" stroke-width="2.4"/>
<text transform="translate(562 1126.7) scale(0.962 1)" font-family='"Liberation Sans", "DejaVu Sans", sans-serif' font-size="28.2" fill="#262626" text-anchor="start" stroke="#262626" stroke-width="0.2">CALR</text>
<path d="M484.4 1155.6 H540.6" stroke="#ff0000" stroke-width="2.4"/>
<text transform="translate(562 1165.5) scale(0.962 1)" font-family='"Liberation Sans", "DejaVu Sans", sans-serif' font-size="28.2" fill="#262626" text-anchor="start" stroke="#262626" stroke-width="0.2">aDC</text>
<rect x="753.3" y="1043" width="573.8" height="372.8" fill="#fff" stroke="#2c2c2c" stroke-width="1.5"/>
<text transform="translate(779 1448.3) scale(0.945 1)" font-family='"Liberation Sans", "DejaVu Sans", sans-serif' font-size="28.4" fill="#262626" text-anchor="middle" stroke="#262626" stroke-width="0.2">0</text>
<text transform="translate(953 1448.3) scale(0.945 1)" font-family='"Liberation Sans", "DejaVu Sans", sans-serif' font-size="28.4" fill="#262626" text-anchor="middle" stroke="#262626" stroke-width="0.2">200</text>
<text transform="translate(1127 1448.3) scale(0.945 1)" font-family='"Liberation Sans", "DejaVu Sans", sans-serif' font-size="28.4" fill="#262626" text-anchor="middle" stroke="#262626" stroke-width="0.2">400</text>
<text transform="translate(1301 1448.3) scale(0.945 1)" font-family='"Liberation Sans", "DejaVu Sans", sans-serif' font-size="28.4" fill="#262626" text-anchor="middle" stroke="#262626" stroke-width="0.2">600</text>
<text transform="translate(1040.8 1479.3) scale(0.945 1)" font-family='"Liberation Sans", "DejaVu Sans", sans-serif' font-size="28.4" fill="#262626" text-anchor="middle" stroke="#262626" stroke-width="0.2">Time (hours)</text>
<text transform="translate(740.2 1408.8) scale(0.945 1)" font-family='"Liberation Sans", "DejaVu Sans", sans-serif' font-size="28.4" fill="#262626" text-anchor="end" stroke="#262626" stroke-width="0.2">0.00</text>
<text transform="translate(740.2 1344.5) scale(0.945 1)" font-family='"Liberation Sans", "DejaVu Sans", sans-serif' font-size="28.4" fill="#262626" text-anchor="end" stroke="#262626" stroke-width="0.2">0.01</text>
<text transform="translate(740.2 1280.2) scale(0.945 1)" font-family='"Liberation Sans", "DejaVu Sans", sans-serif' font-size="28.4" fill="#262626" text-anchor="end" stroke="#262626" stroke-width="0.2">0.02</text>
<text transform="translate(740.2 1216) scale(0.945 1)" font-family='"Liberation Sans", "DejaVu Sans", sans-serif' font-size="28.4" fill="#262626" text-anchor="end" stroke="#262626" stroke-width="0.2">0.03</text>
<text transform="translate(740.2 1151.8) scale(0.945 1)" font-family='"Liberation Sans", "DejaVu Sans", sans-serif' font-size="28.4" fill="#262626" text-anchor="end" stroke="#262626" stroke-width="0.2">0.04</text>
<text transform="translate(740.2 1087.5) scale(0.945 1)" font-family='"Liberation Sans", "DejaVu Sans", sans-serif' font-size="28.4" fill="#262626" text-anchor="end" stroke="#262626" stroke-width="0.2">0.05</text>
<path d="M778 1398.8 L804.1 1398.8 L811.3 1398.8 L815.8 1398.8 L823.8 1398.7 L825.8 1398.7 L829.7 1398.7 L831.8 1398.7 L834 1398.5 L836.4 1398.3 L839 1398 L841.7 1397.6 L844.3 1397.2 L846.7 1396.7 L848.9 1396.2 L851.1 1395.6 L853.1 1395 L855 1394.4 L856.9 1393.7 L858.6 1393 L860.2 1392.2 L861.8 1391.4 L863.2 1390.6 L865.7 1389.2 L866.7 1388.5 L867.7 1387.8 L868.6 1387 L869.6 1386.1 L870.6 1385 L871.7 1383.7 L872.7 1382.4 L873.7 1381 L874.7 1379.7 L875.5 1378.3 L876.3 1376.9 L877.8 1374.1 L879.2 1371.3 L881.5 1367.3 L883.3 1363.9 L910.3 1309.7 L914.5 1301.2 L917.1 1296.2 L918.8 1292.7 L927.3 1274.5 L929.8 1269 L931.5 1265.5 L940 1248 L942.5 1242.7 L945.1 1237.6 L951.9 1224.1 L954.4 1219 L956.1 1215.6 L957.8 1211.9 L960.3 1206.2 L985.8 1150.3 L990 1140.9 L992.6 1135.4 L993.5 1133.5 L994.3 1131.6 L995.1 1129.7 L1000.4 1116.3 L1001.9 1112.5 L1003.4 1108.9 L1005.7 1103.6 L1007.9 1098.3 L1008.7 1096.5 L1009.5 1094.7 L1010.5 1092.8 L1011.5 1090.9 L1012.5 1088.9 L1013.6 1087 L1014.6 1085.3 L1015.6 1083.7 L1016.7 1082.2 L1017.7 1080.8 L1018.7 1079.4 L1019.7 1078.2 L1020.7 1077 L1021.8 1075.9 L1022.8 1074.9 L1025.7 1072.2 L1026.6 1071.5 L1027.5 1070.8 L1028.6 1070.1 L1029.9 1069.3 L1031.6 1068.4 L1033.6 1067.4 L1035.8 1066.4 L1038 1065.5 L1040.1 1064.7 L1042.2 1063.9 L1044.3 1063.3 L1046.4 1062.6 L1050 1061.6 L1052.2 1061.1 L1054 1060.8 L1057 1060.4 L1061.3 1060.1 L1067.1 1059.7 L1073.1 1059.5 L1077.4 1059.2 L1080.7 1059.1 L1085 1059 L1092.2 1059 L1098.9 1058.9 L1103.6 1058.8 L1108.6 1058.9 L1116.3 1059 L1131.6 1059.2 L1139.2 1059.3 L1144.3 1059.4 L1157 1059.8 L1162.1 1060 L1167.2 1060.1 L1172.3 1060.2 L1179.9 1060.2 L1241.1 1060.6 L1302.1 1061.1" fill="none" stroke="#1f77b4" stroke-width="2.4" stroke-linejoin="round" stroke-linecap="round"/>
<path d="M778 1398.8 L839.5 1398.8 L878.9 1398.8 L887.5 1398.8 L890.2 1398.8 L892.5 1398.8 L894.4 1398.7 L896 1398.6 L900.1 1398.1 L904.5 1397.8 L907.8 1397.5 L911.6 1397.1 L913.7 1396.9 L915.9 1396.6 L917.9 1396.2 L920 1395.8 L922 1395.3 L926.1 1394.2 L928.1 1393.7 L930.2 1393.3 L936.4 1392.3 L938.3 1391.9 L940 1391.5 L943 1390.6 L944.4 1390.2 L945.9 1389.9 L947.5 1389.7 L952 1389.3 L953.6 1389.1 L955.1 1388.8 L956.6 1388.5 L959.7 1387.7 L961.2 1387.3 L962.7 1386.9 L967.1 1385.3 L968.8 1384.8 L970.7 1384.2 L974.8 1383.1 L976.9 1382.5 L979 1381.7 L981 1380.8 L983.1 1379.7 L987.2 1377.5 L989.2 1376.4 L993.3 1374.3 L995.3 1373.4 L997.3 1372.4 L999.4 1371.6 L1001.4 1370.8 L1003.4 1370.1 L1005.5 1369.4 L1009.5 1368.2 L1013.6 1367.1 L1015.6 1366.6 L1017.7 1366.1 L1019.7 1365.7 L1021.8 1365.4 L1023.8 1365.1 L1025.8 1364.8 L1029.9 1364.4 L1034 1364.1 L1038.1 1363.8 L1042.2 1363.6 L1046.4 1363.5 L1050 1363.4 L1052.1 1363.5 L1053.9 1363.6 L1055.3 1363.7 L1059.4 1363.7 L1066.7 1363.7 L1073.5 1363.7 L1078.2 1363.7 L1083.2 1363.6 L1093.4 1363.3 L1098.5 1363.2 L1101.1 1363.2 L1103.6 1363.2 L1106.2 1363.2 L1108.7 1363.3 L1116.3 1363.5 L1124 1363.8 L1126.5 1363.9 L1129.1 1363.9 L1131.6 1363.9 L1141.8 1363.9 L1157 1363.9 L1164.7 1363.9 L1169.8 1363.9 L1187.6 1363.7 L1192.7 1363.7 L1197.8 1363.7 L1238.5 1363.9 L1246 1363.9 L1302.1 1363.9" fill="none" stroke="#ff7f0e" stroke-width="2.4" stroke-linejoin="round" stroke-linecap="round"/>
<path d="M778 1398.8 L804.1 1398.8 L811.3 1398.8 L815.8 1398.8 L823.8 1398.7 L825.8 1398.7 L829.7 1398.7 L831.8 1398.7 L834 1398.5 L836.4 1398.2 L839 1397.8 L841.7 1397.3 L844.3 1396.8 L846.7 1396.2 L848.9 1395.7 L851.1 1395.1 L853.1 1394.5 L855 1393.9 L856.9 1393.2 L858.6 1392.5 L860.2 1391.7 L861.8 1390.9 L865.7 1388.7 L867.7 1387.5 L868.6 1386.8 L869.6 1386.1 L870.6 1385.2 L873.5 1382.1 L874.7 1381 L876 1379.8 L877.4 1378.6 L879 1377.3 L880.6 1376 L886.4 1371.3 L888.7 1369.6 L890.7 1368.1 L892.5 1367 L893.8 1366.4 L894.8 1366.2 L895.6 1366.3 L896.5 1366.2 L897.6 1365.7 L898.9 1364.8 L900.5 1363.6 L902 1362.2 L905.2 1359.3 L906.8 1357.9 L908.4 1356.3 L912.8 1351.7 L913.9 1350.5 L915.7 1348.6 L916.6 1347.7 L917.9 1346.6 L919.6 1345.4 L921.6 1344.2 L923.8 1343 L926 1341.6 L928.1 1340.3 L930.2 1338.7 L932.3 1337.1 L934.4 1335.5 L936.4 1333.9 L938.3 1332.6 L940 1331.6 L941.5 1330.8 L944.4 1329.5 L945.9 1328.8 L947.5 1328 L950.5 1326.2 L952 1325.3 L953.6 1324.5 L955.1 1323.8 L958.1 1322.7 L959.7 1322 L961.2 1321.2 L962.7 1320.1 L964.2 1318.7 L965.8 1317.4 L967.3 1316 L968.8 1314.8 L970.4 1313.8 L971.9 1312.9 L974.9 1311.3 L976.5 1310.5 L980.9 1307.8 L982.4 1306.9 L984.1 1305.9 L986 1304.9 L990.3 1303 L992.4 1301.9 L994.3 1300.8 L996 1299.6 L997.5 1298.2 L999 1296.9 L1000.4 1295.6 L1001.9 1294.5 L1003.4 1293.5 L1004.8 1292.7 L1006.3 1292 L1011.4 1289.8 L1013.4 1289 L1015.5 1288.2 L1017.6 1287.4 L1019.7 1286.8 L1021.8 1286.4 L1023.8 1286.1 L1025.8 1285.9 L1027.9 1285.7 L1029.9 1285.5 L1034 1285.1 L1038.1 1284.7 L1040.1 1284.5 L1042.2 1284.4 L1050 1284 L1051.9 1283.8 L1055.8 1283.6 L1061.6 1283.4 L1066.8 1283.1 L1070.5 1283 L1074.9 1283 L1082 1282.9 L1107.2 1282.8 L1114 1282.8 L1121.3 1282.8 L1179.9 1283 L1190.1 1283 L1197.8 1283 L1233.4 1282.8 L1243.6 1282.7 L1302.1 1282.2" fill="none" stroke="#2ca02c" stroke-width="2.4" stroke-linejoin="round" stroke-linecap="round"/>
<path d="M778 1398.8 L804.1 1398.8 L811.3 1398.8 L815.8 1398.8 L823.8 1398.7 L825.8 1398.7 L829.7 1398.7 L831.8 1398.7 L834 1398.5 L836.4 1398.3 L839 1398 L841.7 1397.6 L844.3 1397.2 L846.7 1396.7 L848.9 1396.2 L851.1 1395.6 L853.1 1395 L856.9 1393.7 L858.6 1393.1 L860.2 1392.5 L861.8 1391.8 L866.6 1389.7 L867.5 1389.2 L868.5 1388.7 L869.6 1387.8 L870.9 1386.7 L872.3 1385.4 L873.9 1384 L875.5 1382.5 L877.2 1381 L879.1 1379.5 L881.1 1377.9 L883.2 1376.3 L885.3 1374.8 L887.4 1373.3 L889.4 1372 L891.5 1370.7 L893.5 1369.4 L897.6 1367 L901.7 1364.6 L909.9 1359.9 L914.2 1357.4 L916.2 1356.4 L917.9 1355.5 L919.3 1355 L920.3 1354.8 L921.2 1354.8 L922.1 1354.6 L923 1354.2 L924 1353.6 L924.8 1352.8 L925.7 1351.9 L926.8 1350.9 L928.1 1349.9 L929.8 1348.9 L931.8 1347.7 L936.2 1345.3 L938.3 1344.1 L940.3 1342.8 L948.5 1337.7 L958.7 1331.3 L964.8 1327.5 L966.8 1326.2 L968.8 1325 L970.9 1323.8 L972.9 1322.7 L977 1320.5 L981 1318.3 L985.1 1316.3 L989.2 1314.3 L991.3 1313.4 L995.5 1311.5 L997.5 1310.6 L999.4 1309.7 L1001.1 1308.8 L1002.6 1307.8 L1004.1 1306.9 L1005.5 1306 L1007 1305.1 L1008.5 1304.4 L1009.9 1303.8 L1011.4 1303.2 L1012.9 1302.6 L1014.6 1302.1 L1016.5 1301.5 L1018.5 1301 L1020.6 1300.4 L1022.7 1300 L1024.8 1299.5 L1026.9 1299.2 L1029 1298.9 L1031.1 1298.7 L1035 1298.3 L1036.7 1298.1 L1039.6 1298 L1042.5 1297.9 L1048.8 1297.6 L1050.7 1297.4 L1051.6 1297.3 L1057.1 1297.1 L1059.9 1297 L1062.7 1297 L1065.4 1297 L1068 1297.1 L1070.5 1297.2 L1075.6 1297.4 L1078.2 1297.5 L1083.3 1297.6 L1090.9 1297.8 L1098.5 1297.9 L1101.1 1298 L1103.6 1298 L1106.2 1298 L1118.9 1297.9 L1124.1 1297.8 L1126.6 1297.8 L1129.1 1297.8 L1131.4 1297.8 L1135.8 1297.9 L1140.1 1298.1 L1153.3 1298.5 L1160 1298.7 L1164.2 1298.8 L1182.5 1298.9 L1190.5 1299 L1197.6 1299 L1218.1 1299 L1225.8 1299.1 L1230.8 1299 L1235.9 1298.9 L1251.3 1298.6 L1256.3 1298.5 L1261 1298.5 L1302.1 1298.5" fill="none" stroke="#d62728" stroke-width="2.4" stroke-linejoin="round" stroke-linecap="round"/>
<rect x="767.2" y="1055.8" width="160.9" height="164.5" rx="3.5" fill="#fff" fill-opacity="0.8" stroke="#d4d4d4" stroke-width="1.2"/>
<path d="M777.3 1077.3 H833.7" stroke="#1f77b4" stroke-width="2.4"/>
<text transform="translate(855.2 1087.2) scale(0.945 1)" font-family='"Liberation Sans", "DejaVu Sans", sans-serif' font-size="28.4" fill="#262626" text-anchor="start" stroke="#262626" stroke-width="0.2">Th1</text>
<path d="M777.3 1116.2 H833.7" stroke="#ff7f0e" stroke-width="2.4"/>
<text transform="translate(855.2 1126.1) scale(0.945 1)" font-family='"Liberation Sans", "DejaVu Sans", sans-serif' font-size="28.4" fill="#262626" text-anchor="start" stroke="#262626" stroke-width="0.2">Th2</text>
<path d="M777.3 1155.2 H833.7" stroke="#2ca02c" stroke-width="2.4"/>
<text transform="translate(855.2 1165.1) scale(0.945 1)" font-family='"Liberation Sans", "DejaVu Sans", sans-serif' font-size="28.4" fill="#262626" text-anchor="start" stroke="#262626" stroke-width="0.2">Th17</text>
<path d="M777.3 1194.2 H833.7" stroke="#d62728" stroke-width="2.4"/>
<text transform="translate(855.2 1204.1) scale(0.945 1)" font-family='"Liberation Sans", "DejaVu Sans", sans-serif' font-size="28.4" fill="#262626" text-anchor="start" stroke="#262626" stroke-width="0.2">Treg</text>
<rect x="1432.8" y="1048.9" width="568.8" height="368.1" fill="#fff" stroke="#2c2c2c" stroke-width="1.5"/>
<text transform="translate(1458.5 1448.3) scale(0.968 1)" font-family='"Liberation Sans", "DejaVu Sans", sans-serif' font-size="27.9" fill="#262626" text-anchor="middle" stroke="#262626" stroke-width="0.2">0</text>
<text transform="translate(1630.7 1448.3) scale(0.968 1)" font-family='"Liberation Sans", "DejaVu Sans", sans-serif' font-size="27.9" fill="#262626" text-anchor="middle" stroke="#262626" stroke-width="0.2">200</text>
<text transform="translate(1802.9 1448.3) scale(0.968 1)" font-family='"Liberation Sans", "DejaVu Sans", sans-serif' font-size="27.9" fill="#262626" text-anchor="middle" stroke="#262626" stroke-width="0.2">400</text>
<text transform="translate(1975.1 1448.3) scale(0.968 1)" font-family='"Liberation Sans", "DejaVu Sans", sans-serif' font-size="27.9" fill="#262626" text-anchor="middle" stroke="#262626" stroke-width="0.2">600</text>
<text transform="translate(1715 1479.3) scale(0.968 1)" font-family='"Liberation Sans", "DejaVu Sans", sans-serif' font-size="27.9" fill="#262626" text-anchor="middle" stroke="#262626" stroke-width="0.2">Time (hours)</text>
<text transform="translate(1420.3 1410.5) scale(0.968 1)" font-family='"Liberation Sans", "DejaVu Sans", sans-serif' font-size="27.9" fill="#262626" text-anchor="end" stroke="#262626" stroke-width="0.2">0.000</text>
<text transform="translate(1420.3 1340.8) scale(0.968 1)" font-family='"Liberation Sans", "DejaVu Sans", sans-serif' font-size="27.9" fill="#262626" text-anchor="end" stroke="#262626" stroke-width="0.2">0.025</text>
<text transform="translate(1420.3 1271) scale(0.968 1)" font-family='"Liberation Sans", "DejaVu Sans", sans-serif' font-size="27.9" fill="#262626" text-anchor="end" stroke="#262626" stroke-width="0.2">0.050</text>
<text transform="translate(1420.3 1201.2) scale(0.968 1)" font-family='"Liberation Sans", "DejaVu Sans", sans-serif' font-size="27.9" fill="#262626" text-anchor="end" stroke="#262626" stroke-width="0.2">0.075</text>
<text transform="translate(1420.3 1131.3) scale(0.968 1)" font-family='"Liberation Sans", "DejaVu Sans", sans-serif' font-size="27.9" fill="#262626" text-anchor="end" stroke="#262626" stroke-width="0.2">0.100</text>
<text transform="translate(1420.3 1061.5) scale(0.968 1)" font-family='"Liberation Sans", "DejaVu Sans", sans-serif' font-size="27.9" fill="#262626" text-anchor="end" stroke="#262626" stroke-width="0.2">0.125</text>
<path d="M1458.5 1400.8 L1489 1400.7 L1497.3 1400.6 L1505.2 1400.5 L1525.4 1400.3 L1538.2 1400.2 L1546.2 1400.1 L1548.7 1400.1 L1550.9 1400.1 L1552.7 1400 L1555.7 1399.7 L1558.5 1399.4 L1562.7 1399.2 L1564.3 1399 L1566.2 1398.8 L1568.4 1398.4 L1571 1397.9 L1573.7 1397.4 L1576.4 1396.8 L1578.9 1396.2 L1581.1 1395.7 L1583.1 1395.1 L1585.1 1394.5 L1587.1 1393.9 L1589.1 1393.2 L1591.1 1392.4 L1593.3 1391.5 L1595.3 1390.6 L1597.4 1389.7 L1599.2 1388.6 L1600.9 1387.5 L1602.5 1386.3 L1603.9 1385.1 L1605.4 1383.7 L1606.9 1382.2 L1608.4 1380.7 L1609.9 1379 L1611.5 1377.2 L1613 1375.3 L1614.5 1373.3 L1616.1 1371.1 L1617.7 1368.8 L1619.4 1366.3 L1620.9 1364 L1622.1 1361.9 L1623.1 1360.1 L1623.9 1358.6 L1625.3 1355.7 L1626 1354.2 L1628.2 1349.8 L1629 1348.3 L1629.8 1346.6 L1630.5 1344.8 L1632.1 1341 L1633.6 1337.1 L1635.9 1331.5 L1636.6 1329.6 L1637.4 1327.5 L1638.2 1325.3 L1638.9 1322.9 L1641.2 1315.4 L1643.6 1308 L1644.4 1305.6 L1645 1303.4 L1645.6 1301.3 L1646.6 1297.4 L1647.5 1293.6 L1650 1283.9 L1651.5 1278 L1652 1276.1 L1652.4 1274.1 L1652.9 1272.1 L1654.5 1263.9 L1656.9 1251.7 L1658.1 1245.7 L1658.9 1241.3 L1662.8 1219.8 L1664.1 1212.6 L1664.9 1207.9 L1665.6 1203.5 L1673.7 1150.6 L1674.7 1144 L1675.8 1137.1 L1677 1130.1 L1678.1 1122.9 L1678.5 1120.5 L1678.9 1118.4 L1679.3 1116.4 L1680.8 1109.2 L1681.9 1103.7 L1682.3 1101.9 L1682.7 1100.1 L1683.2 1098.3 L1684.2 1094.8 L1685.2 1091.4 L1685.7 1089.7 L1686.5 1086.3 L1687.1 1084.5 L1687.8 1082.7 L1688.7 1080.8 L1689.8 1078.8 L1690.9 1076.7 L1692.2 1074.8 L1693.4 1073.1 L1694.6 1071.6 L1695.8 1070.4 L1697.1 1069.3 L1698.4 1068.3 L1699.7 1067.5 L1701.2 1066.7 L1702.7 1066.1 L1704.3 1065.6 L1705.8 1065.2 L1707.4 1064.9 L1708.9 1064.8 L1710.4 1064.9 L1711.9 1065.1 L1713.4 1065.4 L1715 1066 L1716.7 1066.7 L1718.4 1067.6 L1720.2 1068.7 L1722 1069.9 L1723.9 1071.3 L1726 1072.9 L1728.1 1074.8 L1730.3 1076.7 L1734.1 1080.2 L1735.4 1081.5 L1737.4 1083.4 L1739.2 1085.3 L1743.3 1089.3 L1745.3 1091.5 L1750.4 1097 L1753.4 1100.2 L1756.9 1104.2 L1765.9 1114.3 L1769.7 1118.5 L1778.7 1128.3 L1782 1131.9 L1789 1139.3 L1792.6 1143.1 L1802.1 1152.9 L1804.7 1155.6 L1811.4 1162.2 L1815.4 1166.2 L1818 1168.8 L1824.7 1175.2 L1828.7 1179.1 L1831.4 1181.6 L1838 1187.8 L1842 1191.5 L1844.7 1193.9 L1851.3 1199.8 L1855.3 1203.4 L1858 1205.7 L1864.6 1211.3 L1868.6 1214.8 L1871.3 1217 L1877.9 1222.4 L1881.9 1225.6 L1884.6 1227.7 L1891.2 1232.8 L1895.2 1235.9 L1897.9 1237.9 L1904.5 1242.8 L1908.5 1245.7 L1911.2 1247.6 L1917.8 1252.1 L1921.8 1254.9 L1924.5 1256.6 L1929.8 1260.1 L1935.1 1263.5 L1937.8 1265.1 L1943.1 1268.3 L1948.5 1271.5 L1951.1 1273 L1956.4 1276 L1961.8 1278.9 L1964.4 1280.3 L1976.4 1286.4" fill="none" stroke="#1f77b4" stroke-width="2.4" stroke-linejoin="round" stroke-linecap="round"/>
<path d="M1458.5 1400.8 L1489 1400.7 L1497.3 1400.6 L1505.2 1400.5 L1525.4 1400.3 L1538.2 1400.2 L1546.2 1400.1 L1548.7 1400.1 L1550.9 1400.1 L1552.7 1400 L1555.7 1399.7 L1558.5 1399.4 L1562.7 1399.2 L1564.3 1399 L1566.2 1398.8 L1568.4 1398.4 L1571 1397.9 L1573.7 1397.4 L1576.4 1396.8 L1578.9 1396.2 L1581.1 1395.7 L1583.1 1395.1 L1585.1 1394.5 L1587.1 1393.9 L1589.1 1393.2 L1591.1 1392.4 L1593.3 1391.5 L1595.3 1390.6 L1597.4 1389.7 L1599.2 1388.6 L1600.9 1387.5 L1602.5 1386.3 L1603.9 1385.1 L1605.4 1383.7 L1606.9 1382.2 L1608.4 1380.7 L1609.9 1379 L1611.5 1377.2 L1613 1375.3 L1614.5 1373.3 L1616.1 1371.1 L1617.7 1368.8 L1619.4 1366.3 L1620.9 1364 L1622.1 1361.9 L1623.1 1360.1 L1623.9 1358.6 L1625.3 1355.7 L1626 1354.2 L1628.2 1349.8 L1629 1348.3 L1629.8 1346.6 L1630.5 1344.8 L1632.1 1341 L1633.6 1337.1 L1635.9 1331.5 L1636.6 1329.6 L1637.4 1327.5 L1638.2 1325.3 L1638.9 1322.9 L1641.2 1315.4 L1643.6 1308 L1644.4 1305.6 L1645 1303.4 L1645.6 1301.3 L1646.6 1297.4 L1647.6 1293.6 L1650.1 1283.9 L1651.7 1278 L1652.2 1276.1 L1652.7 1274.1 L1653.1 1272.1 L1654 1268 L1654.8 1263.9 L1656.9 1253.7 L1658.2 1247.8 L1659 1243.6 L1659.9 1238.9 L1661.2 1231.7 L1663.3 1219.8 L1664.6 1212.6 L1665.4 1207.9 L1666.1 1203.5 L1673.9 1152.8 L1675.2 1144 L1675.9 1139.5 L1677.5 1130.3 L1678.6 1123.3 L1679 1121 L1679.4 1118.9 L1679.8 1116.9 L1681.3 1110 L1682.4 1104.6 L1682.8 1102.8 L1683.2 1101.1 L1683.7 1099.4 L1684.7 1096.1 L1685.8 1092.8 L1686.2 1091.2 L1687.1 1087.9 L1687.6 1086.2 L1688.3 1084.5 L1689.1 1082.7 L1690.1 1080.9 L1691.1 1079 L1692.2 1077.2 L1693.4 1075.6 L1694.6 1074.2 L1695.8 1072.9 L1697 1071.7 L1698.4 1070.7 L1699.7 1069.8 L1701.2 1069 L1702.7 1068.4 L1704.3 1068 L1705.8 1067.7 L1707.4 1067.5 L1708.9 1067.4 L1710.4 1067.5 L1711.9 1067.7 L1713.4 1068 L1715 1068.5 L1716.7 1069.1 L1718.4 1069.9 L1720.2 1070.8 L1722 1071.9 L1723.9 1073.1 L1726 1074.5 L1728.1 1076.2 L1730.3 1078 L1734.1 1081.2 L1735.4 1082.4 L1737.4 1084.3 L1739.2 1086.1 L1743.3 1089.9 L1745.3 1091.9 L1749.4 1096.2 L1752.3 1099.2 L1754.5 1101.4 L1756.9 1104.2 L1764.6 1112.9 L1768.4 1117.1 L1778.7 1128.3 L1782 1131.9 L1789 1139.3 L1792.6 1143.1 L1802.1 1152.9 L1804.7 1155.6 L1811.4 1162.2 L1815.4 1166.2 L1818 1168.8 L1824.7 1175.2 L1828.7 1179.1 L1831.4 1181.6 L1838 1187.8 L1842 1191.5 L1844.7 1193.9 L1851.3 1199.8 L1855.3 1203.4 L1858 1205.7 L1864.6 1211.3 L1868.6 1214.8 L1871.3 1217 L1877.9 1222.4 L1881.9 1225.6 L1884.6 1227.7 L1891.2 1232.8 L1895.2 1235.9 L1897.9 1237.9 L1904.5 1242.8 L1908.5 1245.7 L1911.2 1247.6 L1917.8 1252.1 L1921.8 1254.9 L1924.5 1256.6 L1929.8 1260.1 L1935.1 1263.5 L1937.8 1265.1 L1943.1 1268.3 L1948.5 1271.5 L1951.1 1273 L1956.4 1276 L1961.8 1278.9 L1964.4 1280.3 L1976.4 1286.4" fill="none" stroke="#ff7f0e" stroke-width="2.4" stroke-linejoin="round" stroke-linecap="round"/>
<path d="M1458.5 1400.8 L1489 1400.7 L1497.3 1400.6 L1505.2 1400.5 L1522.9 1400.3 L1550.9 1400.1 L1558.8 1400.1 L1561.3 1400.1 L1563.6 1400.1 L1565.6 1400 L1569.1 1399.7 L1572.5 1399.4 L1578 1399.1 L1581.4 1398.8 L1584.6 1398.4 L1589.1 1397.8 L1593.3 1397.3 L1594.8 1397.1 L1596.7 1396.7 L1599 1396.2 L1601.5 1395.6 L1604.3 1394.9 L1607 1394.1 L1609.4 1393.2 L1611.7 1392.2 L1613.8 1391 L1615.8 1389.8 L1617.8 1388.6 L1619.6 1387.3 L1621.3 1386.1 L1622.8 1384.9 L1624.3 1383.7 L1625.7 1382.4 L1627.2 1381 L1628.8 1379.3 L1630.5 1377.5 L1632.1 1375.6 L1633.6 1373.7 L1634.9 1372.1 L1635.9 1370.6 L1636.7 1369.3 L1638 1366.9 L1638.7 1365.7 L1641 1362 L1641.7 1360.7 L1642.5 1359.3 L1643.3 1357.8 L1644.8 1354.5 L1646.3 1351.1 L1648.6 1346.3 L1649.4 1344.7 L1650.1 1342.8 L1650.9 1340.7 L1651.7 1338.4 L1653.2 1333.7 L1653.9 1331.3 L1656.3 1324.6 L1657 1322.3 L1657.8 1319.9 L1658.4 1317.4 L1659.1 1314.9 L1660.3 1309.7 L1660.9 1307.2 L1663 1299.3 L1663.6 1296.8 L1664.1 1294.5 L1664.6 1292.4 L1664.9 1290.5 L1665.8 1285.1 L1667.9 1274 L1668.9 1268.4 L1669.6 1264.4 L1672.6 1244.4 L1673.7 1237.9 L1674 1235.6 L1674.3 1233.4 L1674.6 1231.1 L1675.1 1226.3 L1675.6 1221.5 L1680.7 1174 L1681.7 1164.4 L1682.2 1160 L1684.5 1141.8 L1685.2 1135.7 L1685.5 1133.6 L1685.8 1131.6 L1686.1 1129.6 L1686.9 1125.5 L1687.7 1121.4 L1688.8 1115.3 L1689.1 1113.2 L1689.6 1111.2 L1690 1109.3 L1691.1 1105.5 L1692.1 1101.7 L1692.6 1099.8 L1692.9 1097.9 L1693.4 1096 L1693.9 1094.1 L1694.7 1092.2 L1695.7 1090.1 L1696.9 1087.9 L1698.2 1085.7 L1699.6 1083.7 L1701 1082 L1702.5 1080.7 L1704 1079.6 L1705.5 1078.7 L1707.1 1078 L1708.7 1077.4 L1710.2 1076.9 L1711.7 1076.6 L1713.2 1076.5 L1714.8 1076.4 L1716.3 1076.4 L1717.8 1076.4 L1719.2 1076.5 L1720.7 1076.7 L1722.2 1077.1 L1723.9 1077.7 L1725.8 1078.5 L1727.8 1079.5 L1729.9 1080.6 L1732 1081.9 L1734.1 1083.3 L1736.2 1084.8 L1738.4 1086.6 L1740.6 1088.4 L1744.3 1091.7 L1745.6 1092.9 L1747.6 1094.8 L1749.4 1096.5 L1752.3 1099.3 L1753.4 1100.3 L1754.5 1101.4 L1755.6 1102.7 L1758.2 1105.6 L1764.6 1112.9 L1768.4 1117.1 L1778.7 1128.3 L1782 1131.9 L1789 1139.3 L1792.6 1143.1 L1802.1 1152.9 L1804.7 1155.6 L1811.4 1162.2 L1815.4 1166.2 L1818 1168.8 L1824.7 1175.2 L1828.7 1179.1 L1831.4 1181.6 L1838 1187.8 L1842 1191.5 L1844.7 1193.9 L1851.3 1199.8 L1855.3 1203.4 L1858 1205.7 L1864.6 1211.3 L1868.6 1214.8 L1871.3 1217 L1877.9 1222.4 L1881.9 1225.6 L1884.6 1227.7 L1891.2 1232.8 L1895.2 1235.9 L1897.9 1237.9 L1904.5 1242.8 L1908.5 1245.7 L1911.2 1247.6 L1917.8 1252.1 L1921.8 1254.9 L1924.5 1256.6 L1929.8 1260.1 L1935.1 1263.5 L1937.8 1265.1 L1943.1 1268.3 L1948.5 1271.5 L1951.1 1273 L1956.4 1276 L1961.8 1278.9 L1964.4 1280.3 L1976.4 1286.4" fill="none" stroke="#2ca02c" stroke-width="2.4" stroke-linejoin="round" stroke-linecap="round"/>
<rect x="1446.7" y="1062.6" width="193.1" height="123.4" rx="3.5" fill="#fff" fill-opacity="0.8" stroke="#d4d4d4" stroke-width="1.2"/>
<path d="M1456.7 1083.3 H1512.1" stroke="#1f77b4" stroke-width="2.4"/>
<text transform="translate(1534.3 1093.2) scale(0.968 1)" font-family='"Liberation Sans", "DejaVu Sans", sans-serif' font-size="27.9" fill="#262626" text-anchor="start" stroke="#262626" stroke-width="0.2">preCTL</text>
<path d="M1456.7 1122.3 H1512.1" stroke="#ff7f0e" stroke-width="2.4"/>
<text transform="translate(1534.3 1132.2) scale(0.968 1)" font-family='"Liberation Sans", "DejaVu Sans", sans-serif' font-size="27.9" fill="#262626" text-anchor="start" stroke="#262626" stroke-width="0.2">CTL</text>
<path d="M1456.7 1160.9 H1512.1" stroke="#2ca02c" stroke-width="2.4"/>
<text transform="translate(1534.3 1170.8) scale(0.968 1)" font-family='"Liberation Sans", "DejaVu Sans", sans-serif' font-size="27.9" fill="#262626" text-anchor="start" stroke="#262626" stroke-width="0.2">Perforin</text>
</svg></body></html>
